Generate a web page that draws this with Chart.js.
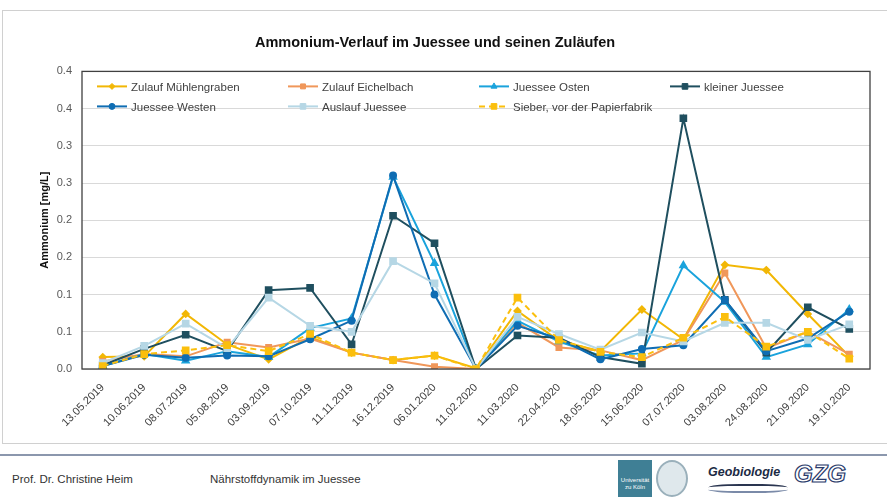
<!DOCTYPE html>
<html>
<head>
<meta charset="utf-8">
<script src="https://cdn.jsdelivr.net/npm/chart.js@4/dist/chart.umd.min.js"></script>
<style>
  body { margin: 0; background: #fff; width: 887px; height: 498px; position: relative; overflow: hidden;
         font-family: "Liberation Sans", sans-serif; }
  #frame { position: absolute; left: 2px; top: 10px; width: 900px; height: 432px; border: 1px solid #d0d0d0; }
  #chart { position: absolute; left: 0; top: 0; }
  #rule { position: absolute; left: 0; top: 454px; width: 887px; height: 2px; background: #8b97ad; }
  .foot { position: absolute; top: 473px; font-size: 11.5px; color: #333; }
  #uni { position: absolute; left: 618px; top: 460px; width: 34px; height: 37px; background: #3f7f95; color: #fff;
         font-size: 6px; line-height: 7px; text-align: center; box-sizing: border-box; padding-top: 17px; }
  #seal { position: absolute; left: 656px; top: 460px; width: 32px; height: 37px; border-radius: 50%;
          border: 2px solid #9ab0bb; background: #dfe8ec; box-sizing: border-box; }
  #geo { position: absolute; left: 708px; top: 465px; font-size: 12.5px; font-weight: bold; font-style: italic; color: #1b2a44; }
  #wave { position: absolute; left: 708px; top: 484px; width: 80px; height: 5px; border-top: 2px solid #2a3550; border-bottom: 2px solid #7a8aa8; border-radius: 40%; }
  #gzg { position: absolute; left: 794px; top: 460px; font-size: 24px; font-weight: bold; font-style: italic; color: #fff;
         -webkit-text-stroke: 1.2px #2a3a6a; }
</style>
</head>
<body>
<div id="frame"></div>
<canvas id="chart" width="887" height="445"></canvas>
<div id="rule"></div>
<div class="foot" style="left:12px">Prof. Dr. Christine Heim</div>
<div class="foot" style="left:210px">Nährstoffdynamik im Juessee</div>
<div id="uni">Universität<br>zu Köln</div>
<div id="seal"></div>
<div id="geo">Geobiologie</div>
<div id="wave"></div>
<div id="gzg">GZG</div>
<script>
const dates = ["13.05.2019", "10.06.2019", "08.07.2019", "05.08.2019", "03.09.2019", "07.10.2019", "11.11.2019",
  "16.12.2019", "06.01.2020", "11.02.2020", "11.03.2020", "22.04.2020", "18.05.2020", "15.06.2020",
  "07.07.2020", "03.08.2020", "24.08.2020", "21.09.2020", "19.10.2020"];

const muehlengraben = [0.016, 0.017, 0.074, 0.033, 0.013, 0.043, 0.022, 0.012, 0.018, 0.001, 0.078, 0.038, 0.024, 0.080, 0.040, 0.140, 0.133, 0.074, 0.017];
const eichelbach    = [0.010, 0.020, 0.017, 0.036, 0.029, 0.041, 0.022, 0.012, 0.003, 0.000, 0.062, 0.029, 0.025, 0.012, 0.039, 0.129, 0.028, 0.050, 0.020];
const osten         = [0.004, 0.020, 0.011, 0.024, 0.016, 0.055, 0.068, 0.258, 0.142, 0.000, 0.065, 0.037, 0.018, 0.021, 0.139, 0.090, 0.016, 0.033, 0.080];
const kleiner       = [0.005, 0.027, 0.046, 0.024, 0.106, 0.109, 0.033, 0.206, 0.169, 0.000, 0.045, 0.042, 0.016, 0.007, 0.337, 0.093, 0.022, 0.083, 0.054];
const westen        = [0.004, 0.019, 0.015, 0.018, 0.017, 0.040, 0.065, 0.260, 0.100, 0.000, 0.058, 0.041, 0.013, 0.027, 0.032, 0.093, 0.024, 0.041, 0.077];
const auslauf       = [0.008, 0.031, 0.061, 0.028, 0.096, 0.058, 0.050, 0.145, 0.115, 0.000, 0.070, 0.047, 0.026, 0.049, 0.037, 0.062, 0.062, 0.039, 0.060];
const sieber        = [0.004, 0.020, 0.025, 0.032, 0.024, 0.047, 0.022, 0.012, 0.018, 0.000, 0.096, 0.039, 0.023, 0.016, 0.042, 0.070, 0.030, 0.050, 0.014];

const yTickLabels = ["0.0", "0.1", "0.1", "0.2", "0.2", "0.3", "0.3", "0.4", "0.4"];

const series = [
  { label: "Zulauf Mühlengraben", data: muehlengraben, color: "#f2b705", style: "rectRot", r: 3 },
  { label: "Zulauf Eichelbach", data: eichelbach, color: "#f0975a", style: "rect", r: 3.5 },
  { label: "Juessee Osten", data: osten, color: "#1aa3dc", style: "triangle", r: 3.5 },
  { label: "kleiner Juessee", data: kleiner, color: "#1f4f5f", style: "rect", r: 4 },
  { label: "Juessee Westen", data: westen, color: "#0f6db3", style: "circle", r: 3 },
  { label: "Auslauf Juessee", data: auslauf, color: "#b6d7e5", style: "rect", r: 4 },
  { label: "Sieber, vor der Papierfabrik", data: sieber, color: "#fbbf0d", style: "rect", r: 4, dash: [6, 4] }
];

const font = "'Liberation Sans', sans-serif";

// legend inside the plot + dark plot frame
const legendAndFrame = {
  id: "legendAndFrame",
  afterDraw(chart) {
    const ctx = chart.ctx, a = chart.chartArea;
    ctx.save();
    ctx.strokeStyle = "#404040";
    ctx.lineWidth = 1.3;
    ctx.strokeRect(a.left, a.top, a.right - a.left, a.bottom - a.top);
    chart.data.datasets.forEach((ds, i) => {
      const x = a.left + 15 + (i % 4) * 191;
      const y = a.top + 15 + Math.floor(i / 4) * 20;
      ctx.strokeStyle = ds.borderColor;
      ctx.fillStyle = ds.borderColor;
      ctx.lineWidth = 2;
      ctx.setLineDash(ds.borderDash || []);
      ctx.beginPath();
      ctx.moveTo(x, y);
      ctx.lineTo(x + 30, y);
      ctx.stroke();
      ctx.setLineDash([]);
      ctx.lineWidth = 1;
      Chart.helpers.drawPoint(ctx, { pointStyle: ds.pointStyle, radius: ds.pointRadius, rotation: 0, borderWidth: 1 }, x + 15, y);
      ctx.fillStyle = "#404040";
      ctx.font = "11.5px " + font;
      ctx.textBaseline = "middle";
      ctx.fillText(ds.label, x + 34, y + 1);
    });
    ctx.restore();
  }
};

new Chart(document.getElementById("chart"), {
  type: "line",
  data: {
    labels: dates,
    datasets: series.map((s, i) => ({
      label: s.label,
      data: s.data,
      borderColor: s.color,
      backgroundColor: s.color,
      pointBackgroundColor: s.color,
      pointBorderColor: s.color,
      pointStyle: s.style,
      pointRadius: s.r,
      borderWidth: 2,
      borderDash: s.dash || [],
      tension: 0,
      order: series.length - 1 - i
    }))
  },
  options: {
    responsive: false,
    animation: false,
    layout: { padding: { left: 0, right: 17, top: 0, bottom: 0 } },
    plugins: {
      legend: { display: false },
      tooltip: { enabled: false },
      title: {
        display: true,
        text: "Ammonium-Verlauf im Juessee und seinen Zuläufen",
        color: "#111",
        font: { family: font, size: 14.5, weight: "bold" },
        padding: { top: 34, bottom: 20 }
      }
    },
    scales: {
      x: {
        offset: true,
        grid: { display: false },
        border: { display: false },
        ticks: {
          color: "#404040",
          font: { family: font, size: 11 },
          minRotation: 45,
          maxRotation: 45,
          padding: 4,
          autoSkip: false
        },
        afterFit(scale) { scale.height = 445 - 369; }
      },
      y: {
        min: 0,
        max: 0.4,
        grid: { color: "#d9d9d9", drawTicks: false },
        border: { display: false },
        ticks: {
          stepSize: 0.05,
          color: "#595959",
          padding: 10,
          font: { family: font, size: 11 },
          callback: (v, i) => yTickLabels[i]
        },
        title: {
          display: true,
          text: "Ammonium [mg/L]",
          color: "#111",
          font: { family: font, size: 11, weight: "bold" },
          padding: { top: 38, bottom: 0 }
        },
        afterFit(scale) { scale.width = 82; }
      }
    }
  },
  plugins: [legendAndFrame]
});
</script>
</body>
</html>
